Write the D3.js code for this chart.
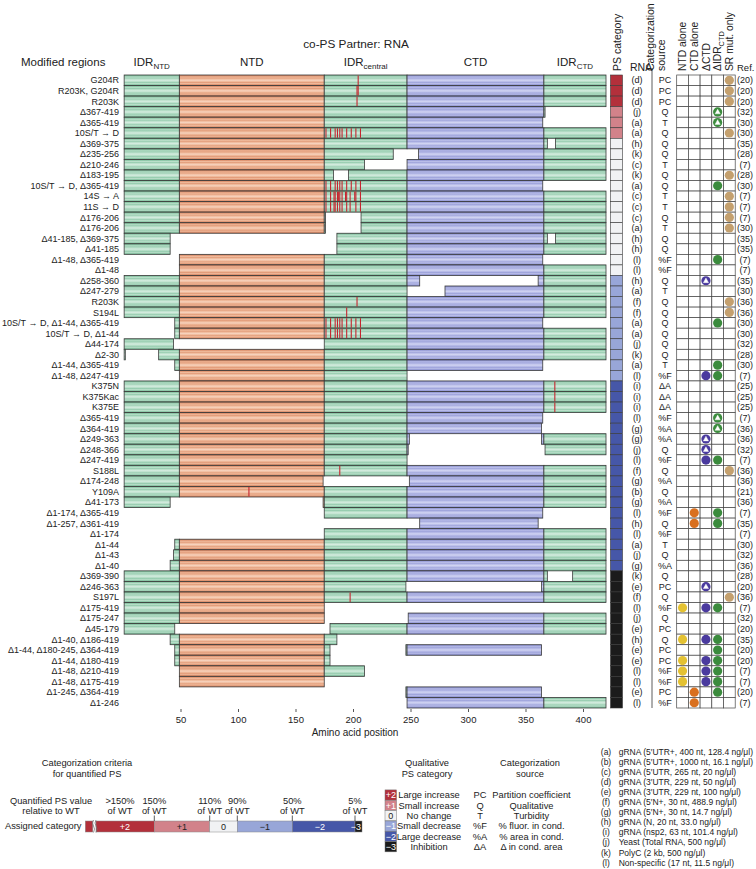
<!DOCTYPE html>
<html><head><meta charset="utf-8">
<script src="https://cdn.jsdelivr.net/npm/d3@7"></script>
<style>
body{margin:0;background:#fff}
text{font-family:"Liberation Sans",Arial,sans-serif;fill:#222}
</style>
</head><body>
<svg id="c" width="756" height="869"></svg>
<script>
// ---------------- DATA ----------------
const labels = ["G204R","R203K, G204R","R203K","Δ367-419","Δ365-419","10S/T → D","Δ369-375","Δ235-256","Δ210-246","Δ183-195",
"10S/T → D, Δ365-419","14S → A","11S → D","Δ176-206","Δ176-206","Δ41-185, Δ369-375","Δ41-185","Δ1-48, Δ365-419","Δ1-48","Δ258-360",
"Δ247-279","R203K","S194L","10S/T → D, Δ1-44, Δ365-419","10S/T → D, Δ1-44","Δ44-174","Δ2-30","Δ1-44, Δ365-419","Δ1-48, Δ247-419","K375N",
"K375Kac","K375E","Δ365-419","Δ364-419","Δ249-363","Δ248-366","Δ247-419","S188L","Δ174-248","Y109A",
"Δ41-173","Δ1-174, Δ365-419","Δ1-257, Δ361-419","Δ1-174","Δ1-44","Δ1-43","Δ1-40","Δ369-390","Δ246-363","S197L",
"Δ175-419","Δ175-247","Δ45-179","Δ1-40, Δ186-419","Δ1-44, Δ180-245, Δ364-419","Δ1-44, Δ180-419","Δ1-48, Δ210-419","Δ1-48, Δ175-419","Δ1-245, Δ364-419","Δ1-246"];

// residue ranges present in each construct
const present = [
[[1,419]],[[1,419]],[[1,419]],[[1,366]],[[1,364]],[[1,419]],[[1,368],[376,419]],[[1,234],[257,419]],[[1,209],[247,419]],[[1,182],[196,419]],
[[1,364]],[[1,419]],[[1,419]],[[1,175],[207,419]],[[1,175],[207,419]],[[1,40],[186,368],[376,419]],[[1,40],[186,419]],[[49,364]],[[49,419]],[[1,257],[361,419]],
[[1,246],[280,419]],[[1,419]],[[1,419]],[[45,364]],[[45,419]],[[1,43],[175,419]],[[1,1],[31,419]],[[45,364]],[[49,246]],[[1,419]],
[[1,419]],[[1,419]],[[1,364]],[[1,363]],[[1,248],[364,419]],[[1,247],[367,419]],[[1,246]],[[1,419]],[[1,173],[249,419]],[[1,419]],
[[1,40],[174,419]],[[175,364]],[[258,360]],[[175,419]],[[45,419]],[[44,419]],[[41,419]],[[1,368],[391,419]],[[1,245],[364,419]],[[1,419]],
[[1,174]],[[1,174],[248,419]],[[1,44],[180,419]],[[41,185]],[[45,179],[246,363]],[[45,179]],[[49,209]],[[49,174]],[[246,363]],[[247,419]]];

const tenST = [176,180,184,186,188,190,194,198,202,206];
const fourteenS = [176,180,183,184,186,187,188,190,193,194,197,201,202,206];
const elevenS = [176,180,183,184,186,188,190,194,197,202,206];
const mutations = [
[204],[203,204],[203],[],[],tenST,[],[],[],[],
tenST,fourteenS,elevenS,[],[],[],[],[],[],[],
[],[203],[194],tenST,tenST,[],[],[],[],[375],
[375],[375],[],[],[],[],[],[188],[],[109],
[],[],[],[],[],[],[],[],[],[197],
[],[],[],[],[],[],[],[],[],[]];

const psCategory = [2,2,2,1,1,1,0,0,0,0, 0,0,0,0,0,0,0,0,0,-1, -1,-1,-1,-1,-1,-1,-1,-1,-1,-2,
 -2,-2,-2,-2,-2,-2,-2,-2,-2,-2, -2,-2,-2,-2,-2,-2,-2,-3,-3,-3, -3,-3,-3,-3,-3,-3,-3,-3,-3,-3];

const rna = ["d","d","d","j","a","a","h","k","c","k","a","c","c","c","a","h","h","l","l","h",
"a","f","f","a","a","j","k","a","l","i","i","i","l","g","g","j","l","f","g","b",
"g","l","h","l","a","j","g","k","e","f","l","j","e","h","e","e","l","l","e","l"];

const source = ["PC","PC","PC","Q","T","Q","Q","Q","T","Q","Q","T","T","Q","T","Q","Q","%F","%F","Q",
"T","Q","Q","Q","Q","Q","Q","T","%F","ΔA","ΔA","ΔA","%F","%A","%A","Q","%F","Q","%A","Q",
"%A","%F","Q","%F","T","Q","%A","Q","PC","Q","%F","Q","PC","Q","PC","PC","%F","%F","PC","%F"];

// columns: NTD alone, CTD alone, ΔCTD, ΔIDR_CTD, SR mut. only ; o = dot, ^ = dot with triangle
const markers = ["....o","....o","....o","...^.","...^.","....o",".....",".....",".....","....o",
"...o.","....o","....o","....o","....o",".....",".....","...o.",".....","..^..",
".....","....o","....o","...o.",".....",".....",".....","...o.","..oo.",".....",
".....",".....","...^.","...^.","..^..","..^..","..oo.","....o",".....",".....",
".....",".o.o.",".o.o.",".....",".....",".....",".....",".....","..^..","....o",
"o.oo.",".....",".....","o.oo.","...o.","o.oo.","o.oo.","o.oo.",".o.o.",".o..."];

const refs = [20,20,20,32,30,30,35,28,7,28,30,7,7,7,30,35,35,7,7,35,
30,36,36,30,30,32,28,30,7,25,25,25,7,36,36,32,7,36,36,21,
36,7,35,7,30,32,36,28,20,36,7,32,20,35,20,20,7,7,20,7];

const domains = [
 {name:"IDR", sub:"NTD", start:1, end:48, type:"idr"},
 {name:"NTD", sub:"", start:49, end:174, type:"ntd"},
 {name:"IDR", sub:"central", start:175, end:246, type:"idr"},
 {name:"CTD", sub:"", start:247, end:365, type:"ctd"},
 {name:"IDR", sub:"CTD", start:366, end:419, type:"idr"}];

const axisTicks = [50,100,150,200,250,300,350,400];
const markerCols = ["NTD alone","CTD alone","ΔCTD","ΔIDR","SR mut. only"];
const markerColors = ["#e4c232","#d9701f","#4a3a9e","#3b8b3d","#c4a06e"];

const catValues = [2,1,0,-1,-2,-3];
const catNames = ["Large increase","Small increase","No change","Small decrease","Large decrease","Inhibition"];
const catLabels = ["+2","+1","0","−1","−2","−3"];
const srcCodes = ["PC","Q","T","%F","%A","ΔA"];
const srcNames = ["Partition coefficient","Qualitative","Turbidity","% fluor. in cond.","% area in cond.","Δ in cond. area"];
const rnaKeys = ["(a)","(b)","(c)","(d)","(e)","(f)","(g)","(h)","(i)","(j)","(k)","(l)"];
const rnaNames = ["gRNA (5′UTR+, 400 nt, 128.4 ng/μl)","gRNA (5′UTR+, 1000 nt, 16.1 ng/μl)","gRNA (5′UTR, 265 nt, 20 ng/μl)",
"gRNA (3′UTR, 229 nt, 50 ng/μl)","gRNA (3′UTR, 229 nt, 100 ng/μl)","gRNA (5′N+, 30 nt, 488.9 ng/μl)","gRNA (5′N+, 30 nt, 14.7 ng/μl)",
"gRNA (N, 20 nt, 33.0 ng/μl)","gRNA (nsp2, 63 nt, 101.4 ng/μl)","Yeast (Total RNA, 500 ng/μl)","PolyC (2 kb, 500 ng/μl)","Non-specific (17 nt, 11.5 ng/μl)"];
const criteriaLabels = [">150%","150%","110%","90%","50%","5%"];
const criteriaBounds = [96,154.3,209.7,237.3,292.3,355,362];

// ---------------- DRAW ----------------
const svg = d3.select("#c");
const x = d3.scaleLinear().domain([0,420]).range([123,606]);
const y = d3.scaleBand().domain(d3.range(labels.length)).range([75,708]);
const catColor = d3.scaleOrdinal().domain(catValues).range(["#b3303b","#d2828a","#f1f2f4","#98a6d8","#4657a8","#1b1b1b"]);

// gradients
const defs = svg.append("defs");
const grads = {idr:["#70b68f","#97cdb0","#badfca","#d4ecdf"], ntd:["#d07b56","#e39c7a","#efba9b","#f7d2bd"], ctd:["#8489cc","#a0a5dc","#b9bde8","#d1d4f2"]};
const stopsDef = [[0,0],[0.12,1],[0.2,2],[0.28,1],[0.38,2],[0.5,3],[0.62,2],[0.72,1],[0.8,2],[0.88,1],[1,0]];
Object.entries(grads).forEach(([k,c])=>{
  const g = defs.append("linearGradient").attr("id","g-"+k).attr("x1",0).attr("y1",0).attr("x2",0).attr("y2",1);
  stopsDef.forEach(([o,i])=>g.append("stop").attr("offset",o).attr("stop-color",c[i]));
});

// headers
svg.append("text").attr("x",356).attr("y",48).attr("text-anchor","middle").attr("font-size",11.8).text("co-PS Partner: RNA");
svg.append("text").attr("x",21).attr("y",66).attr("font-size",11.5).text("Modified regions");
domains.forEach(d=>{
  const t = svg.append("text").attr("x",(x(d.start)+x(d.end+1))/2).attr("y",66).attr("text-anchor","middle").attr("font-size",11.5);
  t.append("tspan").text(d.name);
  if(d.sub) t.append("tspan").attr("font-size",8).attr("dy",3).text(d.sub);
});

// bars
const bars = svg.append("g");
labels.forEach((lab,i)=>{
  const y0 = y(i), h = y.bandwidth();
  present[i].forEach(([a,b])=>{
    domains.forEach(d=>{
      const s = Math.max(a,d.start), e = Math.min(b,d.end);
      if (s<=e) bars.append("rect").attr("x",x(s)).attr("y",y0).attr("width",x(e+1)-x(s)).attr("height",h)
        .attr("fill","url(#g-"+d.type+")").attr("stroke","#3a3a3a").attr("stroke-width",0.8);
    });
  });
  mutations[i].forEach(p=>{
    bars.append("line").attr("x1",x(p+0.5)).attr("x2",x(p+0.5)).attr("y1",y0+0.5).attr("y2",y0+h-0.5)
      .attr("stroke","#c4262f").attr("stroke-width",1.1);
  });
  svg.append("text").attr("x",119).attr("y",y0+h/2).attr("dy","0.35em").attr("text-anchor","end").attr("font-size",9).text(lab);
});

// axis
const ax = svg.append("g").attr("transform","translate(0,709)")
  .call(d3.axisBottom(x).tickValues(axisTicks).tickSize(3).tickPadding(4));
ax.select(".domain").remove();
ax.selectAll("text").attr("font-size",9.5).attr("font-family","Liberation Sans, Arial, sans-serif").attr("fill","#222");
ax.selectAll("line").attr("stroke","#555");
svg.append("text").attr("x",355).attr("y",736).attr("text-anchor","middle").attr("font-size",10).text("Amino acid position");

// PS category column
labels.forEach((lab,i)=>{
  svg.append("rect").attr("x",610.5).attr("y",y(i)).attr("width",12).attr("height",y.bandwidth())
    .attr("fill",catColor(psCategory[i])).attr("stroke","#3a3a3a").attr("stroke-width",0.6);
  svg.append("text").attr("x",637).attr("y",y(i)+y.bandwidth()/2).attr("dy","0.35em").attr("text-anchor","middle").attr("font-size",9).text("("+rna[i]+")");
  svg.append("text").attr("x",665).attr("y",y(i)+y.bandwidth()/2).attr("dy","0.35em").attr("text-anchor","middle").attr("font-size",9).text(source[i]);
  svg.append("text").attr("x",745).attr("y",y(i)+y.bandwidth()/2).attr("dy","0.35em").attr("text-anchor","middle").attr("font-size",9).text("("+refs[i]+")");
});
svg.append("line").attr("x1",652).attr("x2",652).attr("y1",68).attr("y2",708).attr("stroke","#333").attr("stroke-width",0.8);

// marker grid
const gx = d3.scaleBand().domain(d3.range(5)).range([676.7,735.2]);
const grid = svg.append("g");
labels.forEach((lab,i)=>{
  d3.range(5).forEach(c=>{
    grid.append("rect").attr("x",gx(c)).attr("y",y(i)).attr("width",gx.bandwidth()).attr("height",y.bandwidth())
      .attr("fill","#fff").attr("stroke","#444").attr("stroke-width",0.7);
  });
});
labels.forEach((lab,i)=>{
  markers[i].split("").forEach((m,c)=>{
    if (m==="." ) return;
    const cx = gx(c)+gx.bandwidth()/2, cy = y(i)+y.bandwidth()/2;
    svg.append("circle").attr("cx",cx).attr("cy",cy).attr("r",4.6).attr("fill",markerColors[c]);
    if (m==="^") svg.append("path").attr("d",`M${cx},${cy-2.8}L${cx+2.6},${cy+1.9}L${cx-2.6},${cy+1.9}Z`)
      .attr("fill","#fff").attr("stroke","#fff").attr("stroke-width",0.4);
  });
});

// rotated headers
function rot(xc, txt, fs, sub){
  const t = svg.append("text").attr("transform",`translate(${xc},71) rotate(-90)`).attr("dy","0.36em").attr("font-size",fs);
  t.append("tspan").text(txt);
  if (sub) t.append("tspan").attr("font-size",fs*0.72).attr("dy",2.5).text(sub);
}
rot(617, "PS category", 10.5);
rot(650.5, "Categorization", 10.5);
rot(661.5, "source", 10.5);
markerCols.forEach((m,c)=> rot(gx(c)+gx.bandwidth()/2, m, 10.3, c===3?"CTD":null));
svg.append("text").attr("x",630).attr("y",71).attr("font-size",10.5).text("RNA");
svg.append("text").attr("x",737).attr("y",71).attr("font-size",9.5).text("Ref.");

// ---------- bottom legends ----------
// criteria
svg.append("text").attr("x",87).attr("y",766).attr("text-anchor","middle").attr("font-size",9.3).text("Categorization criteria");
svg.append("text").attr("x",87).attr("y",776.5).attr("text-anchor","middle").attr("font-size",9.3).text("for quantified PS");
svg.append("text").attr("x",51).attr("y",803.5).attr("text-anchor","middle").attr("font-size",9.3).text("Quantified PS value");
svg.append("text").attr("x",51).attr("y",814).attr("text-anchor","middle").attr("font-size",9.3).text("relative to WT");
svg.append("text").attr("x",81.5).attr("y",828.5).attr("text-anchor","end").attr("font-size",9.3).text("Assigned category");
svg.append("rect").attr("x",85.3).attr("y",821).attr("width",7.5).attr("height",11).attr("fill",catColor(2)).attr("stroke","#888").attr("stroke-width",0.5);
catValues.forEach((v,k)=>{
  svg.append("rect").attr("x",criteriaBounds[k]).attr("y",821).attr("width",criteriaBounds[k+1]-criteriaBounds[k]).attr("height",11)
    .attr("fill",catColor(v)).attr("stroke","#888").attr("stroke-width",0.5);
});
svg.append("path").attr("d","M93.5,820 q-2,3 0,6 q2,3 0,6.5").attr("fill","none").attr("stroke","#777").attr("stroke-width",0.8);
svg.append("path").attr("d","M96,820 q-2,3 0,6 q2,3 0,6.5").attr("fill","none").attr("stroke","#777").attr("stroke-width",0.8);
const barTextX = [125,182,223.5,265,320,361];
catLabels.forEach((l,k)=>{
  svg.append("text").attr("x",barTextX[k]).attr("y",826.5).attr("dy","0.35em").attr("text-anchor",k===5?"end":"middle")
    .attr("font-size",9).style("fill",(k===0||k>=4)?"#fff":"#222").text(l);
});
const critX = [120,154.3,209.7,237.3,292.3,355];
criteriaLabels.forEach((l,k)=>{
  svg.append("text").attr("x",critX[k]).attr("y",803.5).attr("text-anchor","middle").attr("font-size",9.3).text(l);
  svg.append("text").attr("x",critX[k]).attr("y",814).attr("text-anchor","middle").attr("font-size",9.3).text("of WT");
  if (k>0) svg.append("line").attr("x1",critX[k]).attr("x2",critX[k]).attr("y1",815.5).attr("y2",821).attr("stroke","#333").attr("stroke-width",0.8);
});

// qualitative category
svg.append("text").attr("x",427).attr("y",766).attr("text-anchor","middle").attr("font-size",9.3).text("Qualitative");
svg.append("text").attr("x",427).attr("y",776.5).attr("text-anchor","middle").attr("font-size",9.3).text("PS category");
catValues.forEach((v,k)=>{
  const cy = 795 + k*10.35;
  svg.append("rect").attr("x",385).attr("y",cy-5.1).attr("width",11.5).attr("height",10.2).attr("fill",catColor(v)).attr("stroke","#777").attr("stroke-width",0.5);
  svg.append("text").attr("x",390.8).attr("y",cy).attr("dy","0.35em").attr("text-anchor","middle").attr("font-size",9)
    .style("fill",k===2?"#222":"#fff").text(catLabels[k]);
  svg.append("text").attr("x",429).attr("y",cy).attr("dy","0.35em").attr("text-anchor","middle").attr("font-size",9.3).text(catNames[k]);
  svg.append("text").attr("x",480).attr("y",cy).attr("dy","0.35em").attr("text-anchor","middle").attr("font-size",9.3).text(srcCodes[k]);
  svg.append("text").attr("x",531.5).attr("y",cy).attr("dy","0.35em").attr("text-anchor","middle").attr("font-size",9.3).text(srcNames[k]);
});
svg.append("text").attr("x",530).attr("y",766).attr("text-anchor","middle").attr("font-size",9.3).text("Categorization");
svg.append("text").attr("x",530).attr("y",776.5).attr("text-anchor","middle").attr("font-size",9.3).text("source");

// RNA key
rnaKeys.forEach((k,i)=>{
  const cy = 751.7 + i*10.09;
  svg.append("text").attr("x",606).attr("y",cy).attr("dy","0.35em").attr("text-anchor","middle").attr("font-size",8.5).text(k);
  svg.append("text").attr("x",618.7).attr("y",cy).attr("dy","0.35em").attr("font-size",8.5).text(rnaNames[i]);
});
</script>
</body></html>
